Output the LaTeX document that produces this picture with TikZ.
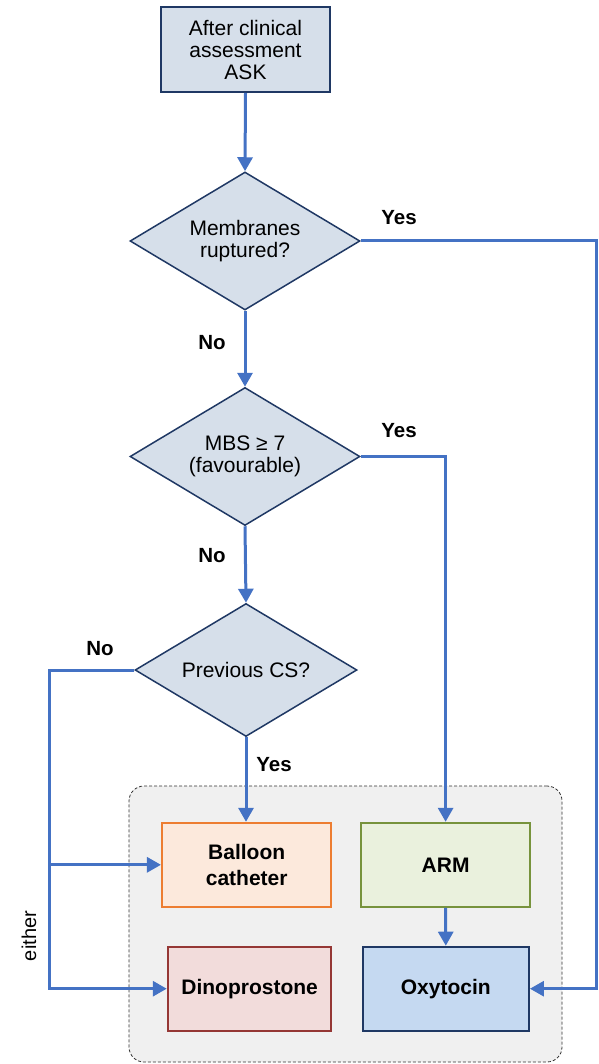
\documentclass[tikz,border=0pt]{standalone}
\usepackage{fontspec}
\setmainfont{Liberation Sans}
\usetikzlibrary{shapes.geometric,arrows.meta}
\definecolor{connblue}{HTML}{4472C4}
\definecolor{navy}{HTML}{1F3864}
\definecolor{decfill}{HTML}{D6DFEA}
\definecolor{grpfill}{HTML}{F0F0F0}
\definecolor{orgdraw}{HTML}{ED7D31}
\definecolor{orgfill}{HTML}{FCE9DC}
\definecolor{grndraw}{HTML}{77933C}
\definecolor{grnfill}{HTML}{EAF1DD}
\definecolor{reddraw}{HTML}{953735}
\definecolor{redfill}{HTML}{F2DCDB}
\definecolor{bluefill}{HTML}{C5D9F1}
\begin{document}
\begin{tikzpicture}[x=1pt,y=-1pt,
  font=\fontsize{21}{22}\selectfont,
  decision/.style={diamond, aspect=1.667, draw=navy, line width=1.5pt, fill=decfill, inner sep=0pt, align=center, minimum width=230pt, minimum height=138pt},
  startbox/.style={rectangle, draw=navy, line width=2pt, fill=decfill, inner sep=0pt, align=center, minimum width=169pt, minimum height=85pt},
  actbox/.style={rectangle, line width=2pt, inner sep=0pt, align=center, minimum height=84pt, font=\fontsize{21}{26}\selectfont\bfseries},
  groupbox/.style={rectangle, draw=black!80, dash pattern=on 3pt off 2pt, line width=0.8pt, fill=grpfill, rounded corners=15pt, minimum width=433pt, minimum height=276pt},
  link/.style={draw=connblue, line width=3pt},
  arrowlink/.style={link, -{Triangle[length=14pt,width=15pt]}},
  lbl/.style={font=\fontsize{20.5}{22}\selectfont\bfseries, inner sep=0pt}
]
\useasboundingbox (0,0) rectangle (598,1064);

\node[groupbox] (grp) at (345.5,924) {};

\node[startbox] (start) at (245.5,49.5) {After clinical\\assessment\\ASK};
\node[decision] (d1) at (245,241) {Membranes\\ruptured?};
\node[decision] (d2) at (245,456.5) {MBS ≥ 7\\(favourable)};
\node[decision, aspect=1.67, minimum width=222pt, minimum height=133pt] (d3) at (246,670) {Previous CS?};

\node[actbox, draw=orgdraw, fill=orgfill, minimum width=169.5pt] (balloon) at (246.7,864.8) {Balloon\\catheter};
\node[actbox, draw=grndraw, fill=grnfill, minimum width=169.7pt] (arm) at (445.6,864.8) {ARM};
\node[actbox, draw=reddraw, fill=redfill, minimum width=163.7pt] (dino) at (249.6,988.7) {Dinoprostone};
\node[actbox, draw=navy, fill=bluefill, minimum width=166.3pt] (oxy) at (445.8,988.7) {Oxytocin};

\coordinate (r1) at (596.5,241);
\coordinate (l1) at (49.5,670);
\coordinate (lb) at (49.5,864.8);

\draw[arrowlink] (start.south) -- (d1.north);
\draw[arrowlink] (d1.south) -- (d2.north);
\draw[arrowlink] (d2.south) -- (d3.north);
\draw[arrowlink] (d1.east) -- (r1) |- (oxy.east);
\draw[arrowlink] (d2.east) -| (arm.north);
\draw[arrowlink] (d3.south) -- (d3.south |- balloon.north);
\draw[arrowlink] (d3.west) -- (l1) |- (dino.west);
\draw[arrowlink] (lb) -- (balloon.west);
\draw[arrowlink] (arm.south) -- (oxy.north);

\node[lbl] (y1) at (399,218) {Yes};
\node[lbl] (n1) at (212,343) {No};
\node[lbl] (y2) at (399,431) {Yes};
\node[lbl] (n2) at (212,556) {No};
\node[lbl] (n3) at (100,649) {No};
\node[lbl] (y3) at (274,765) {Yes};
\node[rotate=90, inner sep=0pt, font=\fontsize{20}{22}\selectfont] (either) at (29,936) {either};
\end{tikzpicture}
\end{document}
